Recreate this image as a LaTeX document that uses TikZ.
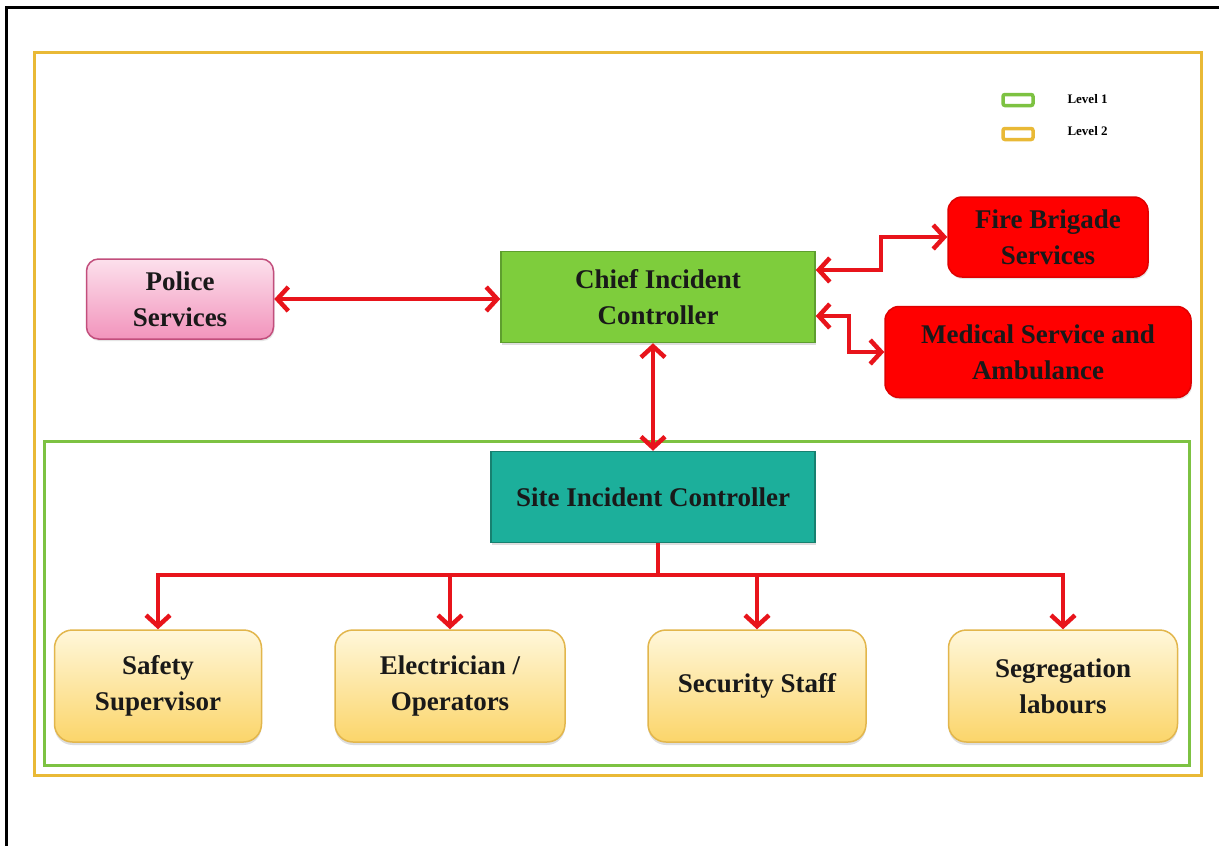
\documentclass[tikz,border=0pt]{standalone}
\usepackage{fontspec}
\setmainfont{Liberation Serif}
\usetikzlibrary{arrows.meta,shadows}
\definecolor{arrred}{HTML}{E8141B}
\definecolor{frameyellow}{HTML}{E9B936}
\definecolor{framegreen}{HTML}{7DC242}
\definecolor{chieffill}{HTML}{7ECD3C}
\definecolor{chiefdraw}{HTML}{5E9E2E}
\definecolor{sitefill}{HTML}{1CAF9B}
\definecolor{sitedraw}{HTML}{178070}
\definecolor{redfill}{HTML}{FF0000}
\definecolor{reddraw}{HTML}{E00000}
\definecolor{pinktop}{HTML}{FCE0EC}
\definecolor{pinkbot}{HTML}{F294BC}
\definecolor{pinkdraw}{HTML}{C24E7C}
\definecolor{yeltop}{HTML}{FFF7DA}
\definecolor{yelbot}{HTML}{FBD56A}
\definecolor{yeldraw}{HTML}{E2B64C}
\tikzset{
  box/.style={align=center, font=\bfseries\fontsize{27}{36}\selectfont, text=black!90, line width=1.5pt},
  chiefbox/.style={box, fill=chieffill, draw=chiefdraw, minimum width=314pt, minimum height=91pt,
     drop shadow={shadow xshift=1pt, shadow yshift=-2pt, fill=black!25}},
  sitebox/.style={box, fill=sitefill, draw=sitedraw, minimum width=324pt, minimum height=91pt,
     drop shadow={shadow xshift=1pt, shadow yshift=-2pt, fill=black!25}},
  redbox/.style={box, fill=redfill, draw=reddraw, rounded corners=14pt, minimum height=80pt,
     drop shadow={shadow xshift=1pt, shadow yshift=-2pt, fill=black!20}},
  pinkbox/.style={box, top color=pinktop, bottom color=pinkbot, draw=pinkdraw, rounded corners=12pt,
     minimum width=187pt, minimum height=80pt,
     drop shadow={shadow xshift=1pt, shadow yshift=-2pt, fill=black!20}},
  yelbox/.style={box, top color=yeltop, bottom color=yelbot, draw=yeldraw, rounded corners=18pt,
     minimum height=112pt,
     drop shadow={shadow xshift=0pt, shadow yshift=-3pt, fill=black!25}},
  arr/.style={draw=arrred, line width=4.5pt, line join=miter,
     arrows={-Straight Barb[length=11pt,width=24pt]}},
  darr/.style={arr, arrows={Straight Barb[length=11pt,width=24pt]-Straight Barb[length=11pt,width=24pt]}},
  plain/.style={draw=arrred, line width=4.5pt},
  legbox/.style={minimum width=30pt, minimum height=11pt, rounded corners=2pt, line width=3.5pt, fill=white},
  legtext/.style={font=\bfseries\fontsize{13}{15}\selectfont, anchor=west}
}
\begin{document}
\begin{tikzpicture}[x=1pt,y=-1pt]
\useasboundingbox (0,0) rectangle (1219,846);
\fill[white] (0,0) rectangle (1219,846);
\draw[line width=3pt] (6,846) -- (6,7) -- (1219,7);
% frames
\draw[frameyellow, line width=3pt] (34,52) rectangle (1201,775);
\draw[framegreen, line width=3pt] (44,441) rectangle (1189,765);
% legend
\node[legbox, draw=framegreen] (lg1) at (1018,100) {};
\node[legtext] (lt1) at (1064,99) {Level 1};
\node[legbox, draw=frameyellow] (lg2) at (1018,134) {};
\node[legtext] (lt2) at (1064,131) {Level 2};
% nodes
\node[chiefbox] (chief) at (658,297) {Chief Incident\\Controller};
\node[pinkbox] (police) at (180,299) {Police\\Services};
\node[redbox, minimum width=200pt] (fire) at (1048,237) {Fire Brigade\\Services};
\node[redbox, minimum width=306pt, minimum height=91pt] (med) at (1038,352) {Medical Service and\\Ambulance};
\node[sitebox] (site) at (653,497) {Site Incident Controller};
\node[yelbox, minimum width=207pt] (s1) at (158,686) {Safety\\Supervisor};
\node[yelbox, minimum width=230pt] (s2) at (450,686) {Electrician /\\Operators};
\node[yelbox, minimum width=218pt] (s3) at (757,686) {Security Staff};
\node[yelbox, minimum width=229pt] (s4) at (1063,686) {Segregation\\labours};
% connectors
\draw[darr] (police.east) -- (police.east -| chief.west);
\draw[darr] ([yshift=27pt]chief.east) -- ++(65,0) |- (fire.west);
\draw[darr] ([yshift=-19pt]chief.east) -- ++(33,0) |- (med.west);
\draw[darr] (chief.south -| site.north) -- (site.north);
\coordinate (bus) at (658,575);
\draw[plain] (site.south -| bus) -- (bus);
\draw[arr] (bus) -| (s1.north);
\draw[arr] (bus) -| (s2.north);
\draw[arr] (bus) -| (s3.north);
\draw[arr] (bus) -| (s4.north);
\end{tikzpicture}
\end{document}
